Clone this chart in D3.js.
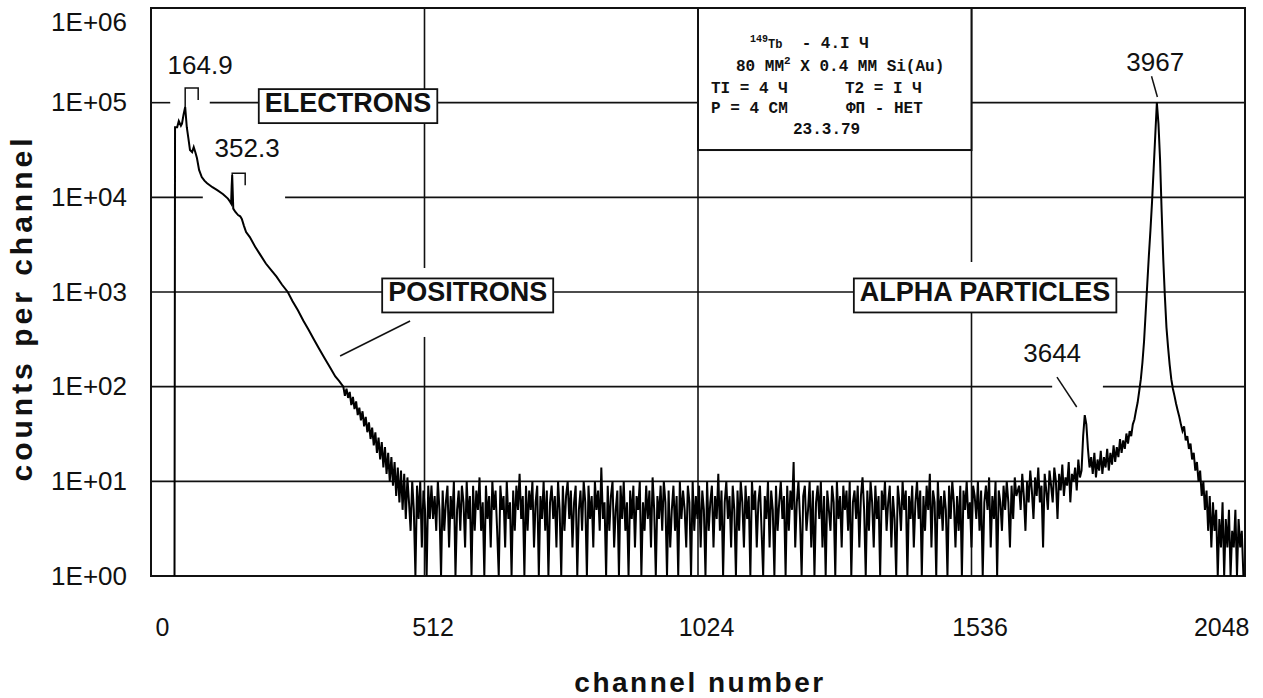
<!DOCTYPE html>
<html>
<head>
<meta charset="utf-8">
<script src="https://cdn.jsdelivr.net/npm/d3@7"></script>
<style>
  body { margin: 0; background: #fff; }
  svg { display: block; font-family: "Liberation Sans", Arial, sans-serif; }
</style>
</head>
<body>
<script>
(function (d3) {
  "use strict";

  /***** Data *****/
  // electron lines 164.9 and 352.3 keV and the start of the positron slope
  var peakChannels = [44, 45, 49, 52, 56, 58, 61, 64, 67, 70, 73, 77, 80, 83, 86, 90, 95, 100, 105, 115,
    124, 135, 144, 148, 150, 151, 152, 154, 158, 163, 167, 170, 174, 178, 185, 195, 205, 215, 225, 235,
    245, 256, 265, 275, 285, 295, 305, 315, 325, 335, 345, 352];
  var peakCounts = [1, 55000, 55000, 64000, 57000, 60000, 75000, 90000, 55000, 42000, 31600, 30000, 34000, 30000, 26000, 19500, 16400, 15000, 14100, 12800,
    11900, 10800, 9700, 9000, 8600, 13000, 17200, 7600, 7000, 6500, 6300, 5900, 5000, 4300, 3800, 3000, 2450, 2000, 1700, 1450,
    1200, 1000, 800, 640, 500, 400, 315, 250, 200, 160, 128, 115];

  // positron tail, every 3rd channel from 360
  var tailStart = 360;
  var tailCounts = [100, 80, 95, 76, 88, 64, 78, 58, 70, 50,
    60, 44, 55, 38, 48, 33, 42, 28, 37, 24,
    33, 20, 29, 17, 26, 14, 23, 12, 20, 10,
    18, 9, 16, 7, 14, 6, 13, 5, 12, 4,
    11, 6, 3, 10, 5, 1, 9, 4, 10, 2,
    8, 5, 1, 9, 4];

  // flat background, every 3rd channel from 525
  var backgroundStart = 525;
  var backgroundCounts = [
    9, 4, 7, 3, 10, 5, 1, 8, 3, 6, 9, 2, 7, 4, 10, 1, 5, 8, 3, 9,
    6, 2, 10, 4, 7, 1, 9, 3, 8, 5, 11, 3, 6, 1, 9, 4, 7, 2, 10, 5,
    8, 3, 1, 9, 5, 7, 2, 10, 4, 6, 1, 8, 3, 9, 5, 12, 4, 7, 1, 9,
    3, 8, 5, 10, 2, 6, 9, 1, 7, 4, 10, 3, 8, 1, 6, 9, 4, 7, 2, 10,
    5, 1, 9, 3, 7, 10, 4, 8, 2, 6, 9, 1, 5, 8, 3, 10, 6, 1, 9, 4,
    7, 2, 10, 5, 8, 3, 14, 4, 6, 1, 9, 3, 7, 10, 2, 5, 8, 1, 9, 4,
    10, 3, 6, 1, 8, 4, 9, 2, 7, 5, 10, 1, 6, 3, 9, 4, 8, 2, 11, 5,
    1, 7, 4, 9, 3, 10, 6, 1, 8, 2, 5, 9, 3, 7, 1, 10, 4, 8, 5, 2,
    9, 6, 1, 10, 3, 7, 4, 9, 2, 8, 5, 1, 10, 3, 6, 9, 2, 7, 4, 12,
    3, 8, 1, 6, 10, 4, 7, 2, 9, 5, 1, 8, 3, 10, 6, 2, 9, 4, 7, 1,
    10, 5, 8, 2, 6, 9, 3, 1, 7, 4, 10, 2, 8, 5, 1, 9, 3, 6, 10, 4,
    7, 1, 9, 3, 8, 5, 16, 2, 6, 10, 4, 1, 7, 9, 3, 5, 10, 2, 8, 1,
    6, 9, 4, 10, 2, 7, 1, 8, 5, 3, 9, 6, 1, 10, 4, 7, 2, 9, 5, 8,
    3, 10, 1, 6, 8, 4, 9, 2, 7, 11, 5, 1, 8, 3, 10, 6, 2, 9, 4, 7,
    1, 8, 5, 10, 3, 6, 9, 2, 7, 4, 1, 9, 6, 3, 10, 5, 8, 1, 7, 4,
    9, 2, 6, 10, 4, 8, 1, 7, 3, 9, 5, 12, 2, 8, 6, 1, 10, 4, 7, 3,
    8, 5, 1, 9, 4, 10, 6, 2, 7, 3, 9, 1, 8, 5, 10, 4, 6, 2, 9, 7,
    4, 10, 3, 8, 1, 6, 9, 5, 11, 2, 7, 4, 10, 1, 8, 6, 3, 9, 5, 10,
    6, 2, 9, 4, 11, 7];

  // rising background below the 3644 keV line, every 3rd channel from 1625
  var preAlphaStart = 1625;
  var preAlphaCounts = [9, 5, 12, 7, 3, 10, 6, 13, 8, 4, 11, 7, 14, 6, 9, 2, 12, 8, 5, 13,
    9, 6, 14, 10, 4, 12, 8, 15, 7, 11, 9, 16, 6, 12, 10, 14, 8, 17, 11, 13];

  // alpha lines 3644 and 3967 keV, every 3rd channel from 1745
  var alphaStart = 1745;
  var alphaCounts = [
    30, 50, 40, 22, 14, 18, 12, 20, 11, 17, 13, 21, 12, 18, 14, 22, 13, 20, 15, 24,
    16, 23, 18, 28, 20, 27, 22, 32, 25, 34, 30, 40, 45, 56, 68, 90, 120, 180, 300, 600,
    1200, 2400, 4500, 9000, 20000, 45000, 100000, 60000, 25000, 7000, 2200, 900, 420, 260, 170, 120, 95, 80, 66, 56,
    48, 40, 34, 38, 27, 30, 22, 25, 17, 20, 13, 16, 10, 13, 7, 10, 5, 8, 3, 7,
    2, 6, 3, 5, 1, 4, 2, 6, 1, 4, 2, 5, 1, 3, 2, 5, 1, 4, 2, 3, 1];
  var sampleStep = 3;

  var xTicks = [0, 512, 1024, 1536, 2048];
  var yTicks = [1, 10, 100, 1000, 10000, 100000, 1000000];
  var yTickLabels = ["1E+00", "1E+01", "1E+02", "1E+03", "1E+04", "1E+05", "1E+06"];

  var boxLabels = [
    { text: "ELECTRONS", channel: 213, count: 100000 },
    { text: "POSITRONS", channel: 444, count: 1000 },
    { text: "ALPHA PARTICLES", channel: 1327, count: 1000 }
  ];
  var peakLabels = [
    { text: "164.9", channel: 92, count: 250000 },
    { text: "352.3", channel: 180, count: 33000 },
    { text: "3967", channel: 1880, count: 270000 },
    { text: "3644", channel: 1687, count: 227 }
  ];
  // small bracket marks over the electron peaks
  var brackets = [
    { channel: 64, count: 90000, top: 143000 },
    { channel: 152, count: 17200, top: 18000 }
  ];
  var leaders = [
    { from: [485, 494], to: [354, 211] },
    { from: [1873, 190000], to: [1884, 115000] },
    { from: [1696, 126], to: [1733, 61] }
  ];
  // where the gridlines are broken in the original
  var hGaps = { 100000: [[36, 110]], 10000: [[97, 251]], 100: [[1687, 1782]] };
  var vGaps = { 512: [[335, 1790]], 1536: [[615, 2075]] };

  var infoLines = [
    [{ dx: 52, parts: [["149", 10, -6], ["Tb", 12, 6], ["  - 4.I Ч", 16, 0]] }],
    [{ dx: 38, parts: [["80 ММ", 16, 0], ["2", 11, -7], [" X 0.4 ММ Si(Au)", 16, 7]] }],
    [{ dx: 13, parts: [["TI = 4 Ч", 16, 0]] }, { dx: 147, parts: [["T2 = I Ч", 16, 0]] }],
    [{ dx: 13, parts: [["P = 4 СМ", 16, 0]] }, { dx: 148, parts: [["ФП - НЕТ", 16, 0]] }],
    [{ dx: 95, parts: [["23.3.79", 16, 0]] }]
  ];

  /***** Layout *****/
  var margin = { top: 8, right: 18, bottom: 122, left: 151 };
  var width = 1263 - margin.left - margin.right;
  var height = 698 - margin.top - margin.bottom;

  var x = d3.scaleLinear().domain([0, 2048]).range([0, width]);
  var y = d3.scaleLog().domain([1, 1e6]).range([height, 0]);

  function sampled(start, counts) {
    return counts.map(function (v, i) { return { c: start + i * sampleStep, v: v }; });
  }

  var spectrum = peakChannels.map(function (c, i) { return { c: c, v: peakCounts[i] }; })
    .concat(sampled(tailStart, tailCounts))
    .concat(sampled(backgroundStart, backgroundCounts))
    .concat(sampled(preAlphaStart, preAlphaCounts))
    .concat(sampled(alphaStart, alphaCounts));

  var svg = d3.select("body").append("svg")
      .attr("width", 1263)
      .attr("height", 698);

  var g = svg.append("g")
      .attr("transform", "translate(" + margin.left + "," + margin.top + ")");

  function pieces(lo, hi, gaps) {
    var out = [], start = lo;
    (gaps || []).forEach(function (gp) { out.push([start, gp[0]]); start = gp[1]; });
    out.push([start, hi]);
    return out;
  }

  /***** Grid *****/
  var grid = g.append("g").attr("stroke", "#111").attr("stroke-width", 1.6);
  yTicks.slice(1, -1).forEach(function (t) {
    pieces(0, 2048, hGaps[t]).forEach(function (p) {
      grid.append("line").attr("x1", x(p[0])).attr("x2", x(p[1])).attr("y1", y(t)).attr("y2", y(t));
    });
  });
  xTicks.slice(1, -1).forEach(function (t) {
    pieces(1, 1e6, vGaps[t]).forEach(function (p) {
      grid.append("line").attr("x1", x(t)).attr("x2", x(t)).attr("y1", y(p[0])).attr("y2", y(p[1]));
    });
  });

  g.append("rect")
      .attr("width", width).attr("height", height)
      .attr("fill", "none").attr("stroke", "#111").attr("stroke-width", 2);

  /***** Axes labels *****/
  var yAxis = d3.axisLeft(y).tickValues(yTicks).tickSize(0).tickPadding(24)
      .tickFormat(function (d, i) { return yTickLabels[i]; });
  var yg = g.append("g").call(yAxis);
  yg.select(".domain").remove();
  yg.selectAll("text").attr("font-size", 26).attr("fill", "#111")
      .attr("font-family", "Liberation Sans, Arial, sans-serif")
      .attr("dy", function (d) { return d === 1e6 ? "0.85em" : "0.32em"; });

  var xAxis = d3.axisBottom(x).tickValues(xTicks).tickSize(0).tickPadding(42)
      .tickFormat(d3.format("d"));
  var xg = g.append("g").attr("transform", "translate(0," + height + ")").call(xAxis);
  xg.select(".domain").remove();
  xg.selectAll("text").attr("font-size", 25).attr("fill", "#111")
      .attr("font-family", "Liberation Sans, Arial, sans-serif")
      .attr("text-anchor", function (d) { return d === 0 ? "start" : d === 2048 ? "end" : "middle"; })
      .attr("dx", function (d) { return d === 0 ? 4 : d === 2048 ? 4 : 8; });

  svg.append("text")
      .attr("transform", "translate(32," + (margin.top + 300) + ") rotate(-90)")
      .attr("text-anchor", "middle")
      .attr("font-size", 30).attr("font-weight", "bold").attr("letter-spacing", 4)
      .attr("fill", "#111")
      .text("counts per channel");

  svg.append("text")
      .attr("x", 700).attr("y", 692)
      .attr("text-anchor", "middle")
      .attr("font-size", 28).attr("font-weight", "bold").attr("letter-spacing", 2.5)
      .attr("fill", "#111")
      .text("channel number");

  /***** Spectrum *****/
  var line = d3.line()
      .x(function (d) { return x(d.c); })
      .y(function (d) { return y(d.v); });

  g.append("path")
      .datum(spectrum)
      .attr("d", line)
      .attr("fill", "none")
      .attr("stroke", "#000")
      .attr("stroke-width", 2)
      .attr("stroke-linejoin", "miter");

  /***** Annotations *****/
  brackets.forEach(function (b) {
    var x0 = x(b.channel), x1 = x0 + 13, yt = y(b.top);
    g.append("path")
        .attr("d", "M" + x0 + "," + y(b.count) + "V" + yt + "H" + x1 + "V" + (yt + 12))
        .attr("fill", "none").attr("stroke", "#111").attr("stroke-width", 1.5);
  });

  leaders.forEach(function (l) {
    g.append("line")
        .attr("x1", x(l.from[0])).attr("y1", y(l.from[1]))
        .attr("x2", x(l.to[0])).attr("y2", y(l.to[1]))
        .attr("stroke", "#111").attr("stroke-width", 1.5);
  });

  g.selectAll(".peak-label")
    .data(peakLabels)
    .enter().append("text")
      .attr("class", "peak-label")
      .attr("x", function (d) { return x(d.channel); })
      .attr("y", function (d) { return y(d.count); })
      .attr("dy", "0.35em")
      .attr("text-anchor", "middle")
      .attr("font-size", 26).attr("fill", "#111")
      .text(function (d) { return d.text; });

  boxLabels.forEach(function (b) {
    var bg = g.append("g");
    var rect = bg.append("rect");
    var t = bg.append("text")
        .attr("x", x(b.channel)).attr("y", y(b.count))
        .attr("dy", "0.35em")
        .attr("font-size", 27).attr("font-weight", "bold").attr("fill", "#111")
        .text(b.text);
    var bb = t.node().getBBox();
    rect.attr("x", bb.x - 6).attr("y", bb.y + 1)
        .attr("width", bb.width + 12).attr("height", bb.height + 4)
        .attr("fill", "#fff").attr("stroke", "#111").attr("stroke-width", 1.8);
  });

  /***** Info box *****/
  var bx = x(1024), by = y(1e6), bw = x(1536) - x(1024), bh = y(31600) - y(1e6);
  var info = g.append("g");
  info.append("rect")
      .attr("x", bx).attr("y", by).attr("width", bw).attr("height", bh)
      .attr("fill", "#fff").attr("stroke", "#111").attr("stroke-width", 2);
  var lineY = [40, 63, 85, 105, 126];
  infoLines.forEach(function (row, i) {
    row.forEach(function (chunk) {
      var t = info.append("text")
          .attr("x", bx + chunk.dx).attr("y", by + lineY[i])
          .attr("font-family", "Liberation Mono, Courier New, monospace")
          .attr("font-weight", "bold").attr("fill", "#111")
          .attr("xml:space", "preserve")
          .style("white-space", "pre");
      chunk.parts.forEach(function (p) {
        t.append("tspan").attr("font-size", p[1]).attr("dy", p[2]).text(p[0]);
      });
    });
  });

})(d3);
</script>
</body>
</html>
